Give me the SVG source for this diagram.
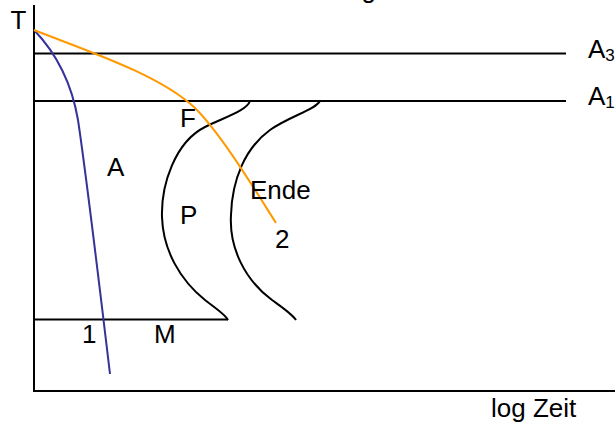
<svg xmlns="http://www.w3.org/2000/svg" width="615" height="426" viewBox="0 0 615 426">
<style>
.ln{stroke:#000;stroke-width:2;fill:none}
.cv{stroke:#000;stroke-width:2;fill:none}
.blue{stroke:#333399;stroke-width:2;fill:none}
.orange{stroke:#FF9900;stroke-width:2;fill:none}
text{font-family:"Liberation Sans",Arial,sans-serif;font-size:26px;fill:#000}
.sub{font-size:17px}
</style>
<rect width="615" height="426" fill="#fff"/>
<g id="title"><text x="361.5" y="-2.5">g</text></g>
<g id="axes">
<line class="ln" x1="34" y1="5" x2="34" y2="391"/>
<line class="ln" x1="33" y1="391" x2="615" y2="391"/>
<text x="10.5" y="29">T</text>
<text x="491" y="417">log Zeit</text>
</g>
<g id="A3"><line class="ln" x1="34" y1="53.5" x2="566" y2="53.5"/><text x="588" y="58">A<tspan class="sub" dy="3">3</tspan></text></g>
<g id="A1"><line class="ln" x1="34" y1="101" x2="566" y2="101"/><text x="588" y="105">A<tspan class="sub" dy="3">1</tspan></text></g>
<g id="M"><line class="ln" x1="34" y1="319.5" x2="228" y2="319.5"/><text x="154" y="343">M</text></g>
<g id="pearlite-start"><path class="cv" d="M250,101 C247,110 228,116 205,127 C175,142 161,185 162,217 C163,250 180,280 205,300 C215,308 225,314 228,320"/></g>
<g id="pearlite-end"><path class="cv" d="M320,101 C315,110 290,116 270,130 C245,148 232,180 231,215 C229,248 245,280 272,300 C283,308 292,314 296,320"/></g>
<g id="connectors">
<path class="blue" d="M34,30 C58,55 72,85 78,120 C84,160 100,290 110,374"/>
<path class="orange" d="M34,30 C90,52 160,75 195,108 C222,135 255,190 276,223"/>
</g>
<g id="labels">
<text x="180" y="127">F</text>
<text x="107" y="176">A</text>
<text x="180" y="224">P</text>
<text x="250" y="199">Ende</text>
<text x="275" y="248">2</text>
<text x="82" y="343">1</text>
</g>
</svg>
